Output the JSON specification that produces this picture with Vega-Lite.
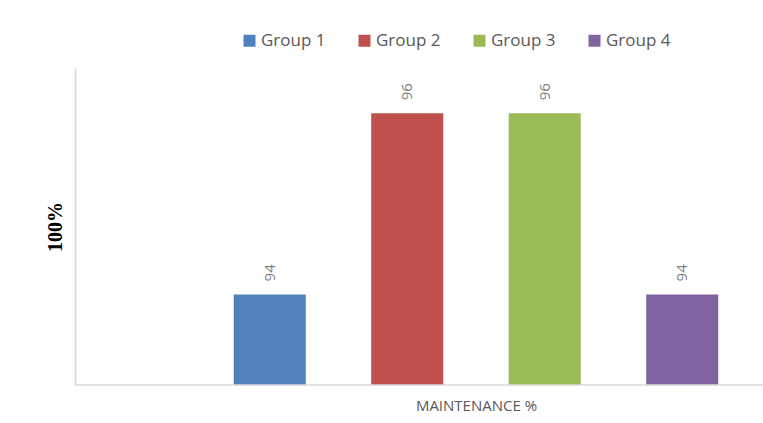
{
  "$schema": "https://vega.github.io/schema/vega-lite/v6.json",
  "autosize": {"type": "none"},
  "padding": {"left": 75, "top": 68, "right": 0, "bottom": 32},
  "width": 688,
  "height": 317,
  "background": "white",
  "data": {"values": [
    {"group": "Group 1", "value": 94},
    {"group": "Group 2", "value": 96},
    {"group": "Group 3", "value": 96},
    {"group": "Group 4", "value": 94}
  ]},
  "encoding": {
    "x": {
      "field": "group", "type": "nominal",
      "scale": {"paddingInner": 0.476, "paddingOuter": 0.74, "align": 0.78},
      "axis": {
        "title": "MAINTENANCE %", "labels": false, "ticks": false, "domain": false,
        "titleFont": "Open Sans", "titleFontSize": 15, "titleFontWeight": "normal",
        "titleColor": "#595959", "titlePadding": 13, "titleX": 401
      }
    },
    "y": {
      "field": "value", "type": "quantitative",
      "scale": {"domain": [93, 96.5], "nice": false, "zero": false},
      "axis": {
        "title": "100%", "labels": false, "ticks": false, "grid": false,
        "domainColor": "#d9d9d9", "domainWidth": 1.5,
        "titleFont": "Liberation Serif", "titleFontSize": 20, "titleFontWeight": "bold",
        "titleColor": "black", "titlePadding": 10
      }
    }
  },
  "layer": [
    {
      "mark": {"type": "bar", "clip": true},
      "encoding": {
        "y2": {"datum": 93},
        "color": {
          "field": "group", "type": "nominal",
          "scale": {"range": ["#4F81BD", "#C0504D", "#9BBB59", "#8064A2"]},
          "legend": {
            "title": null, "orient": "none", "legendX": 166, "legendY": -36,
            "direction": "horizontal", "columns": 4,
            "symbolType": "square", "symbolSize": 144, "symbolStrokeWidth": 0,
            "labelFont": "Open Sans", "labelFontSize": 17, "labelColor": "#595959",
            "labelOffset": 3, "columnPadding": 30
          }
        }
      }
    },
    {
      "mark": {"type": "text", "angle": 270, "align": "left", "baseline": "middle", "dx": 13, "font": "Open Sans", "fontSize": 15, "color": "#808080"},
      "encoding": {"text": {"field": "value", "type": "quantitative"}}
    },
    {
      "data": {"values": [{"base": 93}]},
      "mark": {"type": "rule", "color": "#d9d9d9", "strokeWidth": 1.5},
      "encoding": {"x": null, "y": {"field": "base", "type": "quantitative"}}
    }
  ],
  "config": {"view": {"stroke": null}}
}
